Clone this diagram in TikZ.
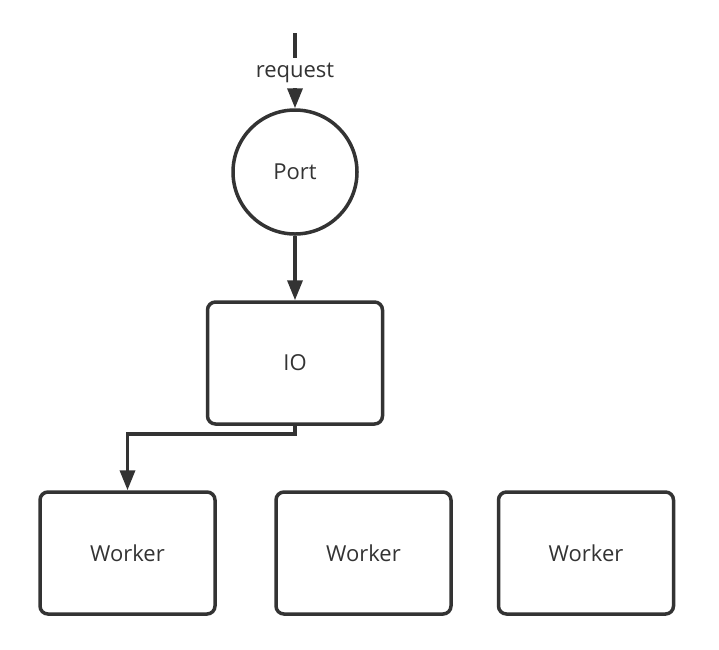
\documentclass[tikz,border=0pt]{standalone}
\usepackage{fontspec}
\setmainfont{Open Sans}
\usetikzlibrary{arrows.meta}
\definecolor{ink}{HTML}{333333}
\tikzset{
    box/.style={rectangle,draw=ink,line width=3.5pt,rounded corners=8pt,
        minimum width=175pt,minimum height=122pt,inner sep=0pt,
        text=ink,font=\fontsize{22}{26}\selectfont},
    portnode/.style={circle,draw=ink,line width=3.5pt,minimum size=124pt,
        inner sep=0pt,text=ink,font=\fontsize{22}{26}\selectfont},
    link/.style={->,draw=ink,line width=3.5pt,>={Triangle[length=20pt,width=15pt]}}
}
\begin{document}
\begin{tikzpicture}[x=1pt,y=-1pt]
    \useasboundingbox (0,0) rectangle (719,649);

    % incoming request
    \coordinate (in) at (295,33);
    \node[portnode] (port) at (295,172) {Port};
    \draw[link] (in) -- node[pos=0.53,fill=white,text=ink,inner xsep=2pt,
        inner ysep=5pt,font=\fontsize{22}{26}\selectfont] (req) {request} (port);

    % IO
    \node[box] (io) at (295,363) {IO};
    \draw[link] (port) -- (io);

    % Workers
    \node[box] (w1) at (127.5,553) {Worker};
    \node[box] (w2) at (363.5,553) {Worker};
    \node[box] (w3) at (586,553) {Worker};

    \draw[link,rounded corners=0pt] (io.south) -- ++(0,8) -| (w1.north);
\end{tikzpicture}
\end{document}
